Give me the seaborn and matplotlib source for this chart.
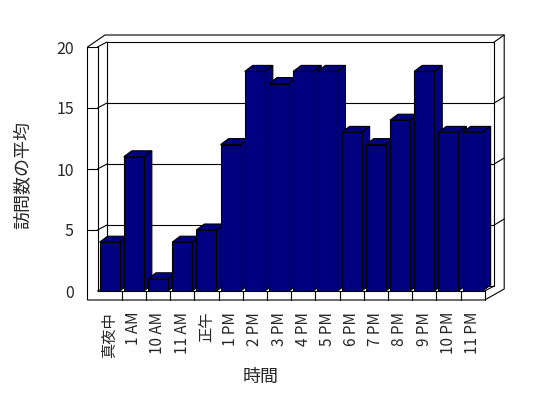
import matplotlib
matplotlib.use("Agg")
import matplotlib.pyplot as plt
import seaborn as sns
import pandas as pd
from matplotlib.patches import Polygon
from matplotlib.transforms import IdentityTransform

# data
hours = ["真夜中", "1 AM", "10 AM", "11 AM", "正午", "1 PM", "2 PM", "3 PM",
         "4 PM", "5 PM", "6 PM", "7 PM", "8 PM", "9 PM", "10 PM", "11 PM"]
visits = [4, 11, 1, 4, 5, 12, 18, 17, 18, 18, 13, 12, 14, 18, 13, 13]
y_ticks = [0, 5, 10, 15, 20]
grid_vals = [5, 10, 15, 20]

sns.set_theme(style="white")
plt.rcParams['font.family'] = ['Noto Sans CJK JP', 'DejaVu Sans']

W, H = 548, 398
fig = plt.figure(figsize=(W / 100, H / 100), dpi=100)
fig.patch.set_facecolor("white")
# front plane of the 3d box (pixels from top-left)
L, R, T, B = 97.5, 484.7, 47, 291
ax = fig.add_axes([L / W, 1 - B / H, (R - L) / W, (B - T) / H])

navy = "#000080"
bar_w = 0.83
df = pd.DataFrame({"hour": hours, "visits": visits})
sns.barplot(data=df, x="hour", y="visits", color=navy, saturation=1,
            width=bar_w, edgecolor="black", linewidth=0.8, ax=ax, zorder=3)
ax.set_xlim(-0.5, len(hours) - 0.5)
ax.set_ylim(0, 20)
for s in ax.spines.values():
    s.set_visible(False)
ax.patch.set_alpha(0)

lw = 0.8
ident = IdentityTransform()


def px(x, y):
    return ax.transData.transform((x, y))


def line(p, q, z=1):
    ax.plot([p[0], q[0]], [p[1], q[1]], color="black", lw=lw,
            transform=ident, clip_on=False, zorder=z)


# box frame, display coords (y up)
x0, y0 = px(-0.5, 0)
x1, y20 = px(len(hours) - 0.5, 20)
dx, dy = 9.5, 5      # wall depth
t = 10               # wall thickness
fl = 9               # floor thickness

outer = [(x0 - t, y20), (x0 + dx - 2, y20 + dy + 7), (x1 + dx + t, y20 + dy + 7),
         (x1 + dx + t, y0 + dy - 3), (x1, y0 - fl), (x0 - t, y0 - fl)]
ax.add_patch(Polygon(outer, closed=True, fill=False, edgecolor="black", lw=lw,
                     transform=ident, clip_on=False, zorder=1))
line((x0, y20), (x0, y0))
line((x0 - t, y20), (x0, y20))
line((x0, y20), (x0 + dx, y20 + dy))
line((x0 + dx, y20 + dy), (x1 + dx, y20 + dy))
line((x1 + dx, y20 + dy), (x1 + dx, y0 + dy))
line((x0 + dx, y20 + dy), (x0 + dx, y0 + dy))
line((x0 + dx, y0 + dy), (x1 + dx, y0 + dy))
line((x1 + dx, y20 + dy), (x1 + dx + t, y20 + dy + 7))
line((x0, y0), (x1, y0), z=4)
line((x0, y0), (x0 + dx, y0 + dy))
line((x1, y0), (x1 + dx, y0 + dy))
line((x1, y0), (x1, y0 - fl), z=4)
for k in range(1, len(hours)):
    bx, _ = px(k - 0.5, 0)
    line((bx, y0), (bx, y0 - fl), z=4)

# grid lines on the walls
for v in grid_vals[:-1]:
    _, yv = px(0, v)
    line((x0 - t, yv), (x0, yv))
    line((x0, yv), (x0 + dx, yv + dy))
    line((x0 + dx, yv + dy), (x1 + dx, yv + dy))
    line((x1 + dx, yv + dy), (x1 + dx + t, yv + dy + 6))

# top and side faces of the bars
bd = (8, 6)
for i, v in enumerate(visits):
    fl_ = px(i - bar_w / 2, v)
    fr = px(i + bar_w / 2, v)
    br = px(i + bar_w / 2, 0)
    top = [fl_, fr, (fr[0] + bd[0], fr[1] + bd[1]), (fl_[0] + bd[0], fl_[1] + bd[1])]
    side = [fr, (fr[0] + bd[0], fr[1] + bd[1]), (br[0] + bd[0], br[1] + bd[1]), br]
    for poly in (top, side):
        ax.add_patch(Polygon(poly, closed=True, facecolor=navy, edgecolor="black",
                             lw=lw, transform=ident, clip_on=False, zorder=2))

ax.set_yticks(y_ticks)
ax.set_yticklabels([str(v) for v in y_ticks], fontsize=11.5)
ax.set_xticks(range(len(hours)))
ax.set_xticklabels(hours, rotation=90, fontsize=11)
ax.tick_params(axis="y", length=0, pad=17)
ax.tick_params(axis="x", length=0, pad=15)
ax.set_xlabel("時間", fontsize=13)
ax.set_ylabel("訪問数の平均", fontsize=13)
ax.xaxis.set_label_coords(0.422, -0.316)
ax.yaxis.set_label_coords(-0.167, 0.475)

fig.savefig("out.png", dpi=100)
